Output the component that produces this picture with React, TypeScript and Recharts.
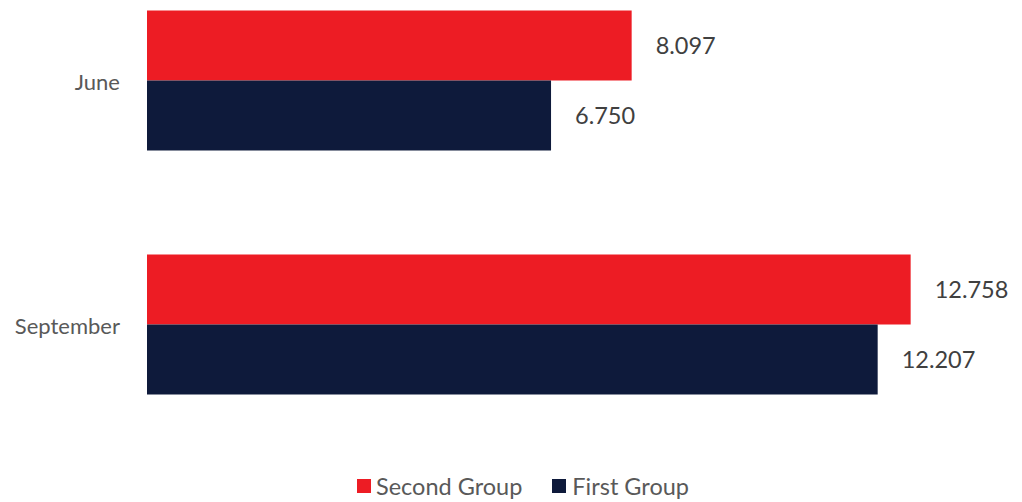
import React from "react";
import { BarChart, Bar, XAxis, YAxis, Legend, LabelList } from "recharts";

const months = ["June", "September"];
const secondGroup = [8.097, 12.758];
const firstGroup = [6.75, 12.207];

const RED = "#ED1C24";
const NAVY = "#0E1A3B";
const FONT = "Lato, 'Open Sans', sans-serif";

const data = months.map((m, i) => ({
  month: m,
  second: secondGroup[i],
  first: firstGroup[i],
}));

const fmt = (v: any) => Number(v).toFixed(3);

const LegendBox = () => (
  <div
    style={{
      display: "flex",
      justifyContent: "flex-start",
      alignItems: "center",
      fontFamily: FONT,
      fontSize: 23.5,
      color: "#595959",
      paddingTop: 26,
      paddingLeft: 357,
    }}
  >
    <span style={{ width: 14, height: 14, background: RED, display: "inline-block", marginRight: 5 }} />
    <span style={{ marginRight: 30 }}>Second Group</span>
    <span style={{ width: 14, height: 14, background: NAVY, display: "inline-block", marginRight: 6 }} />
    <span>First Group</span>
  </div>
);

export default function App() {
  return (
    <div style={{ position: "absolute", left: 0, top: 0, background: "#fff" }}>
      <BarChart
        width={1022}
        height={502}
        data={data}
        layout="vertical"
        margin={{ top: -42, right: 37, left: 0, bottom: 2 }}
        barCategoryGap={52.5}
        barGap={0}
      >
        <XAxis type="number" domain={[0, 14]} hide />
        <YAxis
          type="category"
          dataKey="month"
          width={147}
          axisLine={false}
          tickLine={false}
          tickMargin={21}
          tick={{ fill: "#595959", fontSize: 22, fontFamily: FONT, dy: 2 }}
        />
        <Legend verticalAlign="bottom" content={<LegendBox />} />
        <Bar dataKey="second" name="Second Group" fill={RED} isAnimationActive={false}>
          <LabelList dataKey="second" position="right" offset={24} formatter={fmt} fill="#404040" fontSize={23.5} fontFamily={FONT} />
        </Bar>
        <Bar dataKey="first" name="First Group" fill={NAVY} isAnimationActive={false}>
          <LabelList dataKey="first" position="right" offset={24} formatter={fmt} fill="#404040" fontSize={23.5} fontFamily={FONT} />
        </Bar>
      </BarChart>
    </div>
  );
}
